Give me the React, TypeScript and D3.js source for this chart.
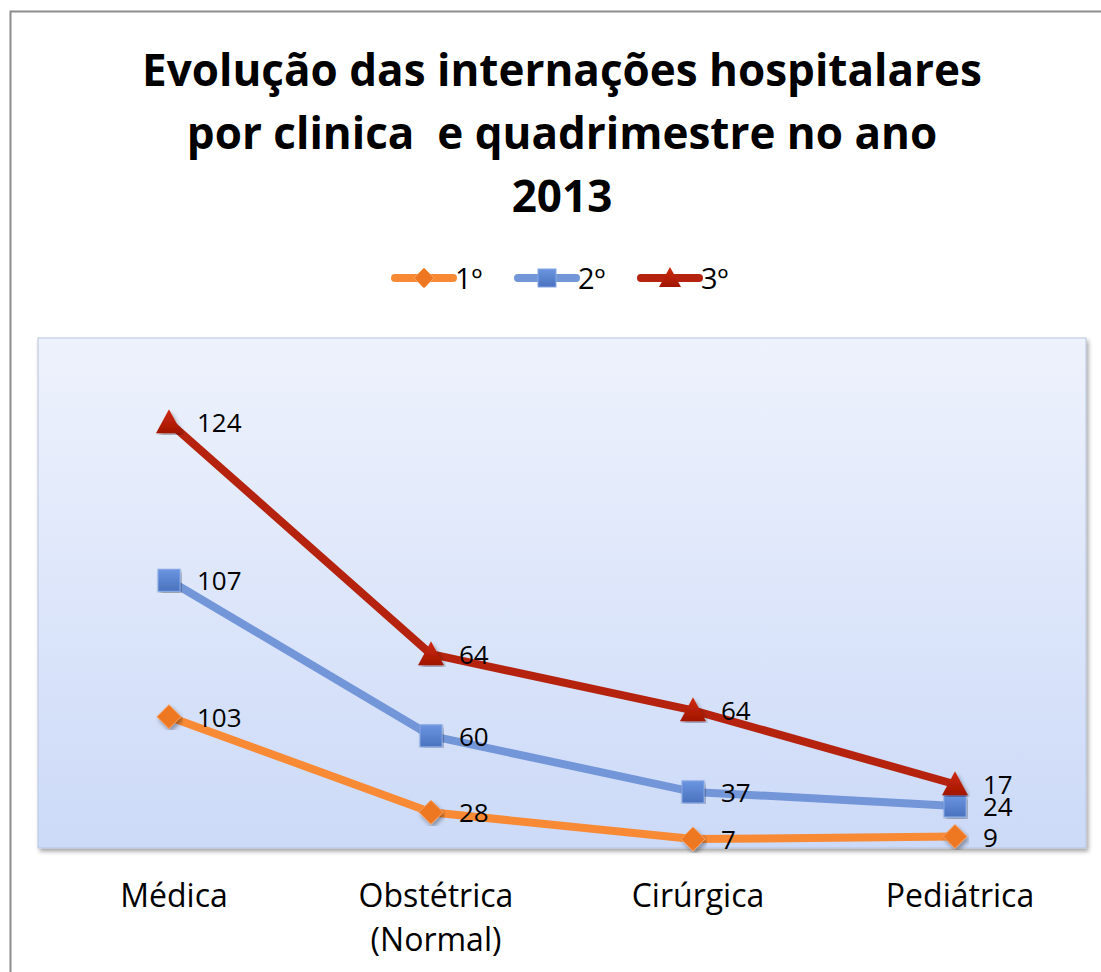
import React from "react";
import * as d3 from "d3";

const categories = ["Médica", "Obstétrica\n(Normal)", "Cirúrgica", "Pediátrica"];
const seriesNames = ["1º", "2º", "3º"];
const serie1 = [103, 28, 7, 9];
const serie2 = [107, 60, 37, 24];
const serie3 = [124, 64, 64, 17];
const titleLines = ["Evolução das internações hospitalares", "por clinica  e quadrimestre no ano", "2013"];

const colors = ["#F98A35", "#7396D9", "#B5230E"];
const markerFill = ["#EE7722", "#4F7FCF", "#B81A04"];

const W = 1101, H = 972;
const plot = { x0: 38, x1: 1086, y0: 338, y1: 848 };

export default function App() {
  const x = d3.scaleBand().domain(categories).range([plot.x0, plot.x1]);
  const y = d3.scaleLinear().domain([0, 400]).range([plot.y1, plot.y0]);
  const raw = [serie1, serie2, serie3];
  const stacked = raw.map((s, si) => s.map((_, i) => raw.slice(0, si + 1).reduce((a, r) => a + r[i], 0)));
  const line = d3.line<number>().x((_, i) => x(categories[i])! + x.bandwidth() / 2).y(d => y(d));

  const marker = (si: number, cx: number, cy: number, key: string, size = 22) => {
    const h = size / 2;
    if (si === 0) return <path key={key} d={`M${cx},${cy - h - 1}L${cx + h + 1},${cy}L${cx},${cy + h + 1}L${cx - h - 1},${cy}Z`} fill={markerFill[0]} stroke="#F7A060" strokeWidth={1} />;
    if (si === 1) return <rect key={key} x={cx - h} y={cy - h} width={size} height={size} fill="url(#gBlue)" stroke="#86A8E6" strokeWidth={1} />;
    return <path key={key} d={`M${cx},${cy - h - 2}L${cx + h + 2},${cy + h}L${cx - h - 2},${cy + h}Z`} fill="url(#gRed)" />;
  };

  const legendX = [395, 518, 641];
  return (
    <svg width={W} height={H} style={{ display: "block", position: "absolute", left: 0, top: 0 }} fontFamily="'Open Sans', Lato, sans-serif">
      <defs>
        <linearGradient id="plotBg" x1="0" y1="0" x2="0" y2="1">
          <stop offset="0" stopColor="#EEF2FC" />
          <stop offset="1" stopColor="#CCDAF8" />
        </linearGradient>
        <linearGradient id="gBlue" x1="0" y1="0" x2="0" y2="1">
          <stop offset="0" stopColor="#6B95E0" />
          <stop offset="1" stopColor="#4A72BE" />
        </linearGradient>
        <linearGradient id="gRed" x1="0" y1="0" x2="0" y2="1">
          <stop offset="0" stopColor="#D02A10" />
          <stop offset="1" stopColor="#A01500" />
        </linearGradient>
        <filter id="shadow" x="-5%" y="-5%" width="110%" height="110%">
          <feDropShadow dx="2" dy="3" stdDeviation="2" floodColor="#000" floodOpacity="0.35" />
        </filter>
      </defs>
      <rect x={0} y={0} width={W} height={H} fill="#fff" />
      <rect x={10.5} y={11.5} width={W + 20} height={H + 20} fill="#fff" stroke="#8C8C8C" strokeWidth={2} />
      {titleLines.map((t, i) => (
        <text key={t} x={562} y={86 + i * 63} textAnchor="middle" fontSize={44} fontWeight={700} fill="#000" style={{ whiteSpace: "pre" }}>{t}</text>
      ))}
      {seriesNames.map((n, si) => (
        <g key={n}>
          <line x1={legendX[si]} x2={legendX[si] + 58} y1={278} y2={278} stroke={colors[si]} strokeWidth={8} strokeLinecap="round" />
          {marker(si, legendX[si] + 29, 278, "lm" + si, 18)}
          <text x={legendX[si] + 60} y={289} fontSize={29} fill="#000">{n}</text>
        </g>
      ))}
      <rect x={plot.x0} y={plot.y0} width={plot.x1 - plot.x0} height={plot.y1 - plot.y0} fill="url(#plotBg)" stroke="#B7C4DE" strokeWidth={1} filter="url(#shadow)" />
      {stacked.map((s, si) => (
        <path key={"l" + si} d={line(s)!} fill="none" stroke={colors[si]} strokeWidth={8} strokeLinejoin="round" strokeLinecap="round" />
      ))}
      {stacked.map((s, si) => s.map((v, i) => {
        const cx = x(categories[i])! + x.bandwidth() / 2;
        return <g key={"m" + si + i} filter="url(#shadow)">{marker(si, cx, y(v), "mk" + si + i)}</g>;
      }))}
      {stacked.map((s, si) => s.map((v, i) => {
        const cx = x(categories[i])! + x.bandwidth() / 2;
        return <text key={"t" + si + i} x={cx + 28} y={y(v) + 10} fontSize={26} fill="#000">{raw[si][i]}</text>;
      }))}
      {categories.map(c => {
        const cx = x(c)! + x.bandwidth() / 2 + 5;
        return c.split("\n").map((p, j) => (
          <text key={c + j} x={cx} y={907 + j * 44} textAnchor="middle" fontSize={32} fill="#000">{p}</text>
        ));
      })}
    </svg>
  );
}
